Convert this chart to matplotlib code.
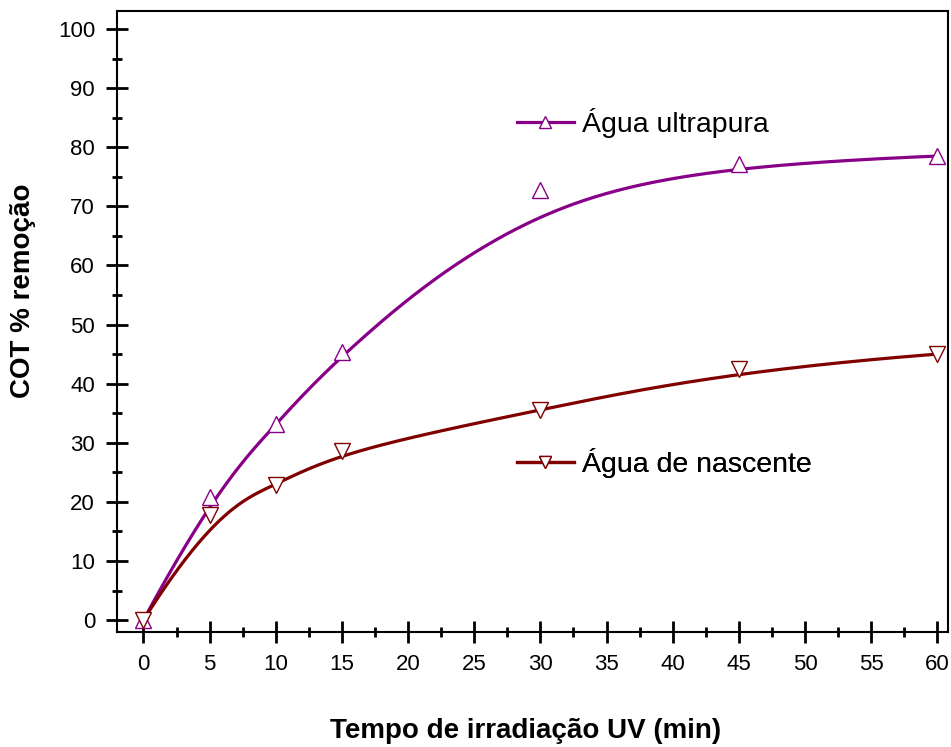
import numpy as np
import matplotlib
matplotlib.use("Agg")
import matplotlib.pyplot as plt
from matplotlib.ticker import MultipleLocator

plt.rcParams['font.family'] = ['Liberation Sans', 'DejaVu Sans']

# tempo de irradiacao (min) e % de remocao de COT
tempo = [0, 5, 10, 15, 30, 45, 60]
ultrapura = [0, 20.8, 33.1, 45.4, 72.8, 77.1, 78.5]
nascente = [0, 17.8, 22.9, 28.6, 35.6, 42.4, 45.0]

rotulo_ultrapura = "Água ultrapura"
rotulo_nascente = "Água de nascente"
cor_ultrapura = "#880088"
cor_nascente = "#800000"


def bspline(px, py, grau=3, npts=400):
    # B-spline cubica com extremos presos, os pontos sao pontos de controle
    P = np.column_stack([px, py]).astype(float)
    n = len(P)
    nint = n - grau
    knots = np.concatenate([np.zeros(grau), np.arange(nint + 1),
                            np.full(grau, nint)]).astype(float)
    u = np.linspace(0, nint, npts)
    u[-1] -= 1e-9
    # Cox-de Boor
    N = np.zeros((npts, len(knots) - 1))
    for i in range(len(knots) - 1):
        N[:, i] = (knots[i] <= u) & (u < knots[i + 1])
    for k in range(1, grau + 1):
        Nk = np.zeros((npts, len(knots) - 1 - k))
        for i in range(len(knots) - 1 - k):
            a = knots[i + k] - knots[i]
            b = knots[i + k + 1] - knots[i + 1]
            t1 = (u - knots[i]) / a * N[:, i] if a > 0 else 0
            t2 = (knots[i + k + 1] - u) / b * N[:, i + 1] if b > 0 else 0
            Nk[:, i] = t1 + t2
        N = Nk
    C = N @ P
    return C[:, 0], C[:, 1]


fig = plt.figure(figsize=(9.51, 7.47), dpi=100)
ax = fig.add_axes([0.123, 0.154, 0.8738, 0.831])

series = [(ultrapura, cor_ultrapura, '^', rotulo_ultrapura),
          (nascente, cor_nascente, 'v', rotulo_nascente)]
handles = []
for y, cor, mk, rot in series:
    cx, cy = bspline(tempo, y)
    ax.plot(cx, cy, color=cor, lw=2.3, zorder=2)
    ax.plot(tempo, y, ls='none', marker=mk, ms=11, mfc='white', mec=cor,
            mew=1.0, zorder=3)
    h, = ax.plot([], [], color=cor, lw=2.3, marker=mk, ms=8, mfc='white',
                 mec=cor, mew=1.0)
    handles.append((h, rot))

# legendas separadas, cada uma perto da sua curva
posicoes = [(0.481, 0.820), (0.481, 0.272)]
for (h, rot), pos in zip(handles, posicoes):
    leg = ax.legend([h], [rot], loc='center left', bbox_to_anchor=pos,
                    frameon=False, fontsize=20.5, borderpad=0, borderaxespad=0,
                    handlelength=2.0, handletextpad=0.3)
    ax.add_artist(leg)

ax.set_xlim(-2, 60.8)
ax.set_ylim(-2, 103)
ax.xaxis.set_major_locator(MultipleLocator(5))
ax.xaxis.set_minor_locator(MultipleLocator(2.5))
ax.yaxis.set_major_locator(MultipleLocator(10))
ax.yaxis.set_minor_locator(MultipleLocator(5))

for s in ax.spines.values():
    s.set_linewidth(1.5)
ax.tick_params(which='major', direction='inout', length=16, width=2,
               labelsize=16, pad=7.8)
ax.tick_params(which='minor', direction='inout', length=7.5, width=2)

ax.set_xlabel("Tempo de irradiação UV (min)", fontsize=20,
              fontweight='bold')
ax.set_ylabel("COT % remoção", fontsize=20, fontweight='bold')
ax.xaxis.set_label_coords(0.492, -0.138)
ax.yaxis.set_label_coords(-0.097, 0.549)

fig.savefig("out.png", dpi=100)
